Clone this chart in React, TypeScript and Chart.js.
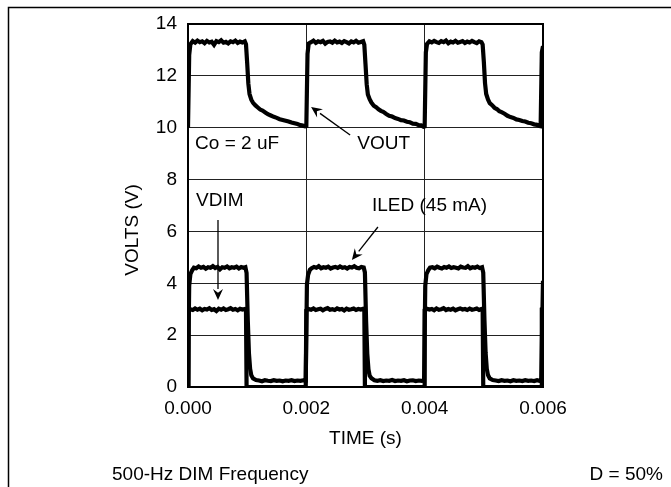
import { useEffect, useRef } from "react";
import { Chart, registerables } from "chart.js";

Chart.register(...registerables);

// VOUT trace (time in s, volts)
const voutTime = [
  0, 0.00002, 0.00004, 0.00008, 0.00012, 0.00016, 0.0002, 0.00024, 0.00028, 0.00032, 0.00036, 0.0004,
  0.00044, 0.00048, 0.00052, 0.00056, 0.0006, 0.00064, 0.00068, 0.00072, 0.00076, 0.0008, 0.00084,
  0.00088, 0.00092, 0.00096, 0.00098, 0.001, 0.00102, 0.00104, 0.00107, 0.0011, 0.00114, 0.00118,
  0.00122, 0.00126, 0.0013, 0.00135, 0.0014, 0.00145, 0.0015, 0.00155, 0.0016, 0.00165, 0.0017,
  0.00175, 0.0018, 0.00185, 0.0019, 0.00194, 0.00198,
  0.002, 0.00202, 0.00204, 0.00208, 0.00212, 0.00216, 0.0022, 0.00224, 0.00228, 0.00232, 0.00236,
  0.0024, 0.00244, 0.00248, 0.00252, 0.00256, 0.0026, 0.00264, 0.00268, 0.00272, 0.00276, 0.0028,
  0.00284, 0.00288, 0.00292, 0.00296, 0.00298, 0.003, 0.00302, 0.00304, 0.00307, 0.0031, 0.00314,
  0.00318, 0.00322, 0.00326, 0.0033, 0.00335, 0.0034, 0.00345, 0.0035, 0.00355, 0.0036, 0.00365,
  0.0037, 0.00375, 0.0038, 0.00385, 0.0039, 0.00394, 0.00398,
  0.004, 0.00402, 0.00404, 0.00408, 0.00412, 0.00416, 0.0042, 0.00424, 0.00428, 0.00432, 0.00436,
  0.0044, 0.00444, 0.00448, 0.00452, 0.00456, 0.0046, 0.00464, 0.00468, 0.00472, 0.00476, 0.0048,
  0.00484, 0.00488, 0.00492, 0.00496, 0.00498, 0.005, 0.00502, 0.00504, 0.00507, 0.0051, 0.00514,
  0.00518, 0.00522, 0.00526, 0.0053, 0.00535, 0.0054, 0.00545, 0.0055, 0.00555, 0.0056, 0.00565,
  0.0057, 0.00575, 0.0058, 0.00585, 0.0059, 0.00594, 0.00596, 0.00598, 0.006,
];
const voutVolts = [
  10.0, 12.8, 13.22, 13.34, 13.28, 13.36, 13.3, 13.33, 13.26, 13.35, 13.29, 13.32,
  13.2, 13.34, 13.3, 13.37, 13.28, 13.31, 13.25, 13.33, 13.3, 13.36, 13.27,
  13.32, 13.29, 13.33, 13.22, 12.5, 11.7, 11.3, 11.08, 10.96, 10.86, 10.78,
  10.7, 10.66, 10.6, 10.52, 10.47, 10.42, 10.38, 10.33, 10.3, 10.27, 10.24,
  10.2, 10.17, 10.14, 10.1, 10.08, 10.05,
  10.06, 12.85, 13.25, 13.3, 13.36, 13.27, 13.33, 13.3, 13.35, 13.24, 13.31,
  13.33, 13.28, 13.36, 13.29, 13.32, 13.27, 13.34, 13.3, 13.25, 13.33, 13.29,
  13.35, 13.28, 13.31, 13.34, 13.2, 12.45, 11.68, 11.28, 11.1, 10.97, 10.85,
  10.79, 10.71, 10.65, 10.61, 10.53, 10.46, 10.43, 10.37, 10.34, 10.29, 10.28,
  10.23, 10.21, 10.16, 10.15, 10.1, 10.09, 10.04,
  10.05, 12.9, 13.23, 13.33, 13.29, 13.35, 13.3, 13.27, 13.34, 13.3, 13.36,
  13.26, 13.32, 13.29, 13.35, 13.28, 13.31, 13.34, 13.27, 13.32, 13.29, 13.35,
  13.3, 13.26, 13.33, 13.3, 13.21, 12.55, 11.72, 11.3, 11.09, 10.95, 10.87,
  10.77, 10.72, 10.64, 10.6, 10.54, 10.46, 10.41, 10.38, 10.32, 10.3, 10.26,
  10.24, 10.19, 10.17, 10.13, 10.11, 10.07, 10.06, 12.9, 13.15,
];

// VDIM trace
const vdimTime = [
  0, 0.00001, 0.00004, 0.00008, 0.00012, 0.00016, 0.0002, 0.00024, 0.00028, 0.00032, 0.00036, 0.0004,
  0.00044, 0.00048, 0.00052, 0.00056, 0.0006, 0.00064, 0.00068, 0.00072, 0.00076, 0.0008, 0.00084,
  0.00088, 0.00092, 0.00096, 0.00098, 0.00099, 0.00199,
  0.002, 0.00204, 0.00208, 0.00212, 0.00216, 0.0022, 0.00224, 0.00228, 0.00232, 0.00236, 0.0024,
  0.00244, 0.00248, 0.00252, 0.00256, 0.0026, 0.00264, 0.00268, 0.00272, 0.00276, 0.0028, 0.00284,
  0.00288, 0.00292, 0.00296, 0.00298, 0.00299, 0.00399,
  0.004, 0.00404, 0.00408, 0.00412, 0.00416, 0.0042, 0.00424, 0.00428, 0.00432, 0.00436, 0.0044,
  0.00444, 0.00448, 0.00452, 0.00456, 0.0046, 0.00464, 0.00468, 0.00472, 0.00476, 0.0048, 0.00484,
  0.00488, 0.00492, 0.00496, 0.00498, 0.00499, 0.00597, 0.00598, 0.006,
];
const vdimVolts = [
  0, 2.96, 3.0, 2.97, 3.03, 2.98, 3.02, 2.96, 3.01, 2.99, 3.04, 2.97,
  3.0, 2.93, 3.02, 2.98, 3.03, 2.97, 3.0, 3.04, 2.98, 3.01, 2.96,
  3.02, 2.99, 3.01, 2.98, 0, 0,
  2.95, 3.01, 2.98, 3.03, 2.97, 3.0, 3.02, 2.96, 3.01, 3.04, 2.98,
  3.0, 2.97, 3.03, 2.99, 3.01, 2.95, 3.02, 2.98, 3.0, 3.03, 2.97,
  3.01, 2.99, 3.02, 2.99, 0, 0,
  2.96, 3.02, 2.99, 3.01, 2.96, 3.03, 2.98, 3.0, 3.04, 2.97, 3.01,
  2.98, 3.02, 2.96, 3.0, 3.03, 2.99, 3.01, 2.97, 3.02, 2.98, 3.0,
  3.03, 2.97, 3.01, 3.0, 0, 0, 3.0, 3.02,
];

// ILED trace (drawn on the volts scale)
const iledTime = [
  0, 0.00002, 0.00004, 0.00007, 0.0001, 0.00014, 0.00018, 0.00022, 0.00026, 0.0003, 0.00034, 0.00038,
  0.00042, 0.00046, 0.0005, 0.00054, 0.00058, 0.00062, 0.00066, 0.0007, 0.00074, 0.00078, 0.00082,
  0.00086, 0.0009, 0.00094, 0.00097, 0.00099, 0.00101, 0.00103, 0.00105, 0.00107, 0.0011, 0.00115,
  0.0012, 0.00125, 0.0013, 0.00135, 0.0014, 0.00145, 0.0015, 0.00155, 0.0016, 0.00165, 0.0017,
  0.00175, 0.0018, 0.00185, 0.0019, 0.00195, 0.00199,
  0.00201, 0.00203, 0.00206, 0.00209, 0.00213, 0.00217, 0.00221, 0.00225, 0.00229, 0.00233, 0.00237,
  0.00241, 0.00245, 0.00249, 0.00253, 0.00257, 0.00261, 0.00265, 0.00269, 0.00273, 0.00277, 0.00281,
  0.00285, 0.00289, 0.00293, 0.00297, 0.00299, 0.00301, 0.00303, 0.00305, 0.00307, 0.0031, 0.00315,
  0.0032, 0.00325, 0.0033, 0.00335, 0.0034, 0.00345, 0.0035, 0.00355, 0.0036, 0.00365, 0.0037,
  0.00375, 0.0038, 0.00385, 0.0039, 0.00395, 0.00399,
  0.00401, 0.00403, 0.00406, 0.00409, 0.00413, 0.00417, 0.00421, 0.00425, 0.00429, 0.00433, 0.00437,
  0.00441, 0.00445, 0.00449, 0.00453, 0.00457, 0.00461, 0.00465, 0.00469, 0.00473, 0.00477, 0.00481,
  0.00485, 0.00489, 0.00493, 0.00497, 0.00499, 0.00501, 0.00503, 0.00505, 0.00507, 0.0051, 0.00515,
  0.0052, 0.00525, 0.0053, 0.00535, 0.0054, 0.00545, 0.0055, 0.00555, 0.0056, 0.00565, 0.0057,
  0.00575, 0.0058, 0.00585, 0.0059, 0.00594, 0.00597, 0.006,
];
const iledVolts = [
  0.25, 3.9, 4.35, 4.5, 4.6, 4.58, 4.65, 4.6, 4.63, 4.56, 4.62, 4.6,
  4.66, 4.59, 4.63, 4.54, 4.62, 4.6, 4.65, 4.58, 4.62, 4.6, 4.64,
  4.57, 4.63, 4.6, 4.62, 4.4, 2.6, 1.3, 0.7, 0.45, 0.33, 0.27,
  0.25, 0.22, 0.26, 0.24, 0.23, 0.26, 0.24, 0.25, 0.22, 0.25, 0.24,
  0.26, 0.23, 0.25, 0.24, 0.26, 0.25,
  3.95, 4.33, 4.52, 4.58, 4.63, 4.6, 4.66, 4.58, 4.62, 4.6, 4.64,
  4.57, 4.61, 4.63, 4.59, 4.65, 4.6, 4.62, 4.57, 4.63, 4.61, 4.66,
  4.6, 4.58, 4.63, 4.61, 4.42, 2.55, 1.28, 0.68, 0.44, 0.34, 0.26,
  0.24, 0.26, 0.23, 0.25, 0.24, 0.27, 0.23, 0.25, 0.24, 0.26, 0.22,
  0.25, 0.26, 0.23, 0.25, 0.24, 0.25,
  3.9, 4.35, 4.5, 4.6, 4.62, 4.58, 4.64, 4.6, 4.57, 4.63, 4.6,
  4.65, 4.59, 4.62, 4.6, 4.57, 4.64, 4.61, 4.6, 4.66, 4.58, 4.62,
  4.6, 4.64, 4.59, 4.62, 4.41, 2.6, 1.32, 0.7, 0.46, 0.33, 0.27,
  0.25, 0.23, 0.26, 0.24, 0.25, 0.22, 0.26, 0.24, 0.25, 0.23, 0.26,
  0.24, 0.25, 0.23, 0.26, 0.24, 0.25, 4.1,
];

const xTicks = [0, 0.002, 0.004, 0.006];
const yTicks = [0, 2, 4, 6, 8, 10, 12, 14];

// text labels inside the plot, placed in data units (left edge, middle)
const noteText = ["Co = 2 uF", "VOUT", "VDIM", "ILED (45 mA)"];
const noteTime = [0.00012, 0.00286, 0.000135, 0.00311];
const noteVolts = [9.37, 9.37, 7.17, 6.98];

// arrows: tail -> head, in data units
const arrowFromTime = [0.00274, 0.000507, 0.00321];
const arrowFromVolts = [9.72, 6.44, 6.17];
const arrowToTime = [0.00208, 0.000507, 0.00277];
const arrowToVolts = [10.8, 3.36, 4.9];

const FONT = '19px "Liberation Sans", Arial, sans-serif';

const zip = (t: number[], v: number[]) => t.map((x, i) => ({ x, y: v[i] }));

const decorations = {
  id: "decorations",
  afterDatasetsDraw(chart: any) {
    const { ctx, chartArea, scales } = chart;
    const xs = scales.x;
    const ys = scales.y;
    ctx.save();
    // plot frame
    ctx.strokeStyle = "#000";
    ctx.lineWidth = 2;
    ctx.strokeRect(chartArea.left, chartArea.top, chartArea.right - chartArea.left, chartArea.bottom - chartArea.top);

    // arrows
    ctx.lineWidth = 1.3;
    ctx.fillStyle = "#000";
    arrowFromTime.forEach((t, i) => {
      const x1 = xs.getPixelForValue(t);
      const y1 = ys.getPixelForValue(arrowFromVolts[i]);
      const x2 = xs.getPixelForValue(arrowToTime[i]);
      const y2 = ys.getPixelForValue(arrowToVolts[i]);
      const a = Math.atan2(y2 - y1, x2 - x1);
      const len = 11;
      const half = 5;
      const bx = x2 - len * Math.cos(a);
      const by = y2 - len * Math.sin(a);
      ctx.beginPath();
      ctx.moveTo(x1, y1);
      ctx.lineTo(bx, by);
      ctx.stroke();
      ctx.beginPath();
      ctx.moveTo(x2, y2);
      ctx.lineTo(bx + half * Math.sin(a), by - half * Math.cos(a));
      ctx.lineTo(bx + 0.35 * len * Math.cos(a), by + 0.35 * len * Math.sin(a));
      ctx.lineTo(bx - half * Math.sin(a), by + half * Math.cos(a));
      ctx.closePath();
      ctx.fill();
    });

    // notes
    ctx.font = FONT;
    ctx.textAlign = "left";
    ctx.textBaseline = "middle";
    noteText.forEach((s, i) => {
      ctx.fillText(s, xs.getPixelForValue(noteTime[i]), ys.getPixelForValue(noteVolts[i]));
    });
    ctx.restore();
  },
  afterDraw(chart: any) {
    const { ctx, chartArea, width } = chart;
    ctx.save();
    ctx.fillStyle = "#000";
    ctx.font = FONT;
    ctx.textBaseline = "middle";

    // figure box (top and left edges)
    ctx.strokeStyle = "#000";
    ctx.lineWidth = 1.5;
    ctx.beginPath();
    ctx.moveTo(width, 7.5);
    ctx.lineTo(8.5, 7.5);
    ctx.lineTo(8.5, chart.height);
    ctx.stroke();

    // axis titles
    ctx.textAlign = "center";
    ctx.fillText("TIME (s)", (chartArea.left + chartArea.right) / 2, chartArea.bottom + 52);
    ctx.save();
    ctx.translate(chartArea.left - 55, chartArea.top + 206);
    ctx.rotate(-Math.PI / 2);
    ctx.fillText("VOLTS (V)", 0, 0);
    ctx.restore();

    // footer
    ctx.textAlign = "left";
    ctx.fillText("500-Hz DIM Frequency", 112, chartArea.bottom + 88);
    ctx.textAlign = "right";
    ctx.fillText("D = 50%", 663, chartArea.bottom + 88);
    ctx.restore();
  },
};

const App = () => {
  const canvas = useRef<HTMLCanvasElement>(null);

  useEffect(() => {
    const line = (data: any) => ({
      data,
      borderColor: "#000",
      borderWidth: 4.2,
      pointRadius: 0,
      tension: 0,
      fill: false,
    });

    const chart = new Chart(canvas.current!, {
      type: "line",
      data: {
        datasets: [
          line(zip(voutTime, voutVolts)),
          line(zip(vdimTime, vdimVolts)),
          line(zip(iledTime, iledVolts)),
        ],
      },
      options: {
        responsive: false,
        animation: false,
        layout: { padding: { top: 24, right: 128, bottom: 0, left: 0 } },
        plugins: { legend: { display: false }, tooltip: { enabled: false } },
        scales: {
          x: {
            type: "linear",
            min: 0,
            max: 0.006,
            afterBuildTicks: (s: any) => {
              s.ticks = xTicks.map((value) => ({ value }));
            },
            afterFit: (s: any) => {
              s.height = 100;
            },
            grid: { color: "#222", lineWidth: 1, drawTicks: false },
            border: { display: false },
            ticks: {
              padding: 10,
              color: "#000",
              font: { family: '"Liberation Sans", Arial, sans-serif', size: 19 },
              callback: (v: any) => Number(v).toFixed(3),
            },
          },
          y: {
            type: "linear",
            min: 0,
            max: 14,
            afterBuildTicks: (s: any) => {
              s.ticks = yTicks.map((value) => ({ value }));
            },
            afterFit: (s: any) => {
              s.width = 188;
            },
            grid: { color: "#222", lineWidth: 1, drawTicks: false },
            border: { display: false },
            ticks: {
              padding: 11,
              color: "#000",
              font: { family: '"Liberation Sans", Arial, sans-serif', size: 19 },
            },
          },
        },
      },
      plugins: [decorations],
    });

    return () => {
      chart.destroy();
    };
  }, []);

  return (
    <div style={{ position: "fixed", left: 0, top: 0, width: 671, height: 487, background: "#fff" }}>
      <canvas ref={canvas} width={671} height={487}></canvas>
    </div>
  );
};

export default App;
